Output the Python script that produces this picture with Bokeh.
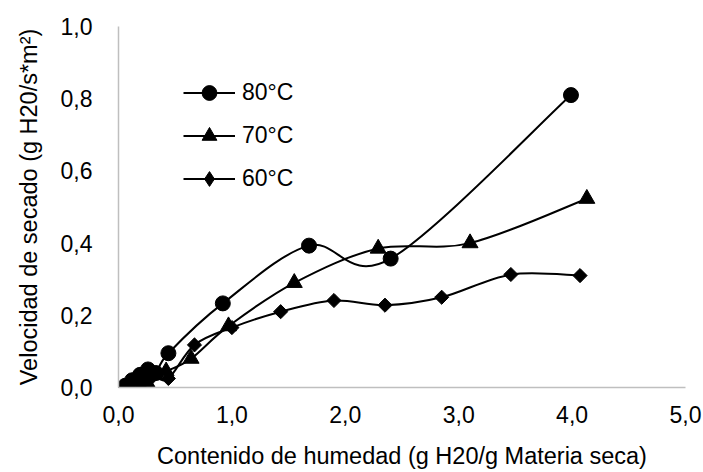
import numpy as np
from bokeh.plotting import figure
from bokeh.models import (Range1d, FixedTicker, CustomJSTickFormatter, Legend,
                          LegendItem)
from bokeh.embed import file_html
from bokeh.resources import INLINE

# ---- data ----
x80 = [0.06, 0.12, 0.19, 0.26, 0.33, 0.44, 0.92, 1.68, 2.40, 3.99]
y80 = [0.005, 0.020, 0.035, 0.050, 0.040, 0.095, 0.233, 0.393, 0.357, 0.810]

x70 = [0.20, 0.25, 0.32, 0.42, 0.64, 0.97, 1.55, 2.29, 3.10, 4.13]
y70 = [0.000, 0.015, 0.035, 0.045, 0.080, 0.170, 0.290, 0.385, 0.400, 0.523]

x60 = [0.05, 0.10, 0.16, 0.30, 0.44, 0.67, 1.00, 1.43, 1.90, 2.35, 2.85, 3.46, 4.07]
y60 = [0.000, 0.010, 0.020, 0.030, 0.025, 0.118, 0.166, 0.210, 0.241, 0.228, 0.250, 0.313, 0.310]

series_labels = ["80°C", "70°C", "60°C"]
x_ticks = [0, 1, 2, 3, 4, 5]
y_ticks = [0.0, 0.2, 0.4, 0.6, 0.8, 1.0]

FONT = "Liberation Sans"


def smooth_segments(xs, ys):
    """Control points of an Excel-like smoothed line (cardinal Bezier)."""
    x = np.asarray(xs, float)
    y = np.asarray(ys, float)
    xp = np.concatenate([[x[0]], x, [x[-1]]])
    yp = np.concatenate([[y[0]], y, [y[-1]]])
    return dict(
        x0=x[:-1], y0=y[:-1], x1=x[1:], y1=y[1:],
        cx0=x[:-1] + (xp[2:-1] - xp[:-3]) / 6.0,
        cy0=y[:-1] + (yp[2:-1] - yp[:-3]) / 6.0,
        cx1=x[1:] - (xp[3:] - xp[1:-2]) / 6.0,
        cy1=y[1:] - (yp[3:] - yp[1:-2]) / 6.0,
    )


p = figure(width=703, height=472, output_backend="svg", toolbar_location=None,
           x_range=Range1d(0, 5), y_range=Range1d(0, 1),
           min_border_left=118, min_border_right=18,
           min_border_top=26, min_border_bottom=85)
p.background_fill_color = "white"
p.border_fill_color = "white"
p.outline_line_color = None
p.xgrid.visible = False
p.ygrid.visible = False

# lines
beziers = []
for xs, ys in [(x80, y80), (x70, y70), (x60, y60)]:
    b = p.bezier(**smooth_segments(xs, ys), line_color="black", line_width=2)
    beziers.append(b)

# markers
s80 = p.scatter(x80, y80, marker="circle", size=15, fill_color="black", line_color="black")
s70 = p.scatter(x70, y70, marker="triangle", size=16, fill_color="black", line_color="black")
s60 = p.scatter(x60, y60, marker="square", size=10, angle=np.pi / 4,
                fill_color="black", line_color="black")
# legend-only diamond glyph (legend does not rotate markers); hidden on the plot
s60_leg = p.scatter(x60, y60, marker="diamond", size=14,
                    fill_color="black", line_color="black", visible=False)

# axes
fmt = CustomJSTickFormatter(code="return tick.toFixed(1).replace('.', ',');")
for ax, ticks in [(p.xaxis[0], x_ticks), (p.yaxis[0], y_ticks)]:
    ax.ticker = FixedTicker(ticks=ticks)
    ax.formatter = fmt
    ax.axis_line_color = "#bfbfbf"
    ax.axis_line_width = 1.5
    ax.major_tick_line_color = None
    ax.minor_tick_line_color = None
    ax.major_label_text_font = FONT
    ax.major_label_text_font_size = "23px"
    ax.major_label_text_color = "black"
    ax.axis_label_text_font = FONT
    ax.axis_label_text_font_size = "23.5px"
    ax.axis_label_text_font_style = "normal"
    ax.axis_label_text_color = "black"

p.xaxis.major_label_standoff = 12
p.yaxis.major_label_standoff = 20
p.xaxis.axis_label = "Contenido de humedad (g H20/g Materia seca)"
p.xaxis.axis_label_standoff = 17
p.yaxis.axis_label = "Velocidad de secado (g H20/s*m²)"
p.yaxis.axis_label_standoff = 16

legend = Legend(items=[LegendItem(label=series_labels[0], renderers=[beziers[0], s80]),
                       LegendItem(label=series_labels[1], renderers=[beziers[1], s70]),
                       LegendItem(label=series_labels[2], renderers=[beziers[2], s60_leg])],
                location=(65, 190))
legend.border_line_color = None
legend.background_fill_alpha = 0
legend.padding = 0
legend.margin = 0
legend.glyph_width = 52
legend.glyph_height = 37
legend.label_height = 37
legend.spacing = 6
legend.label_standoff = 7
legend.label_text_font = FONT
legend.label_text_font_size = "23px"
legend.label_text_color = "black"
p.add_layout(legend)

open("out.html", "w").write(file_html(p, INLINE))
